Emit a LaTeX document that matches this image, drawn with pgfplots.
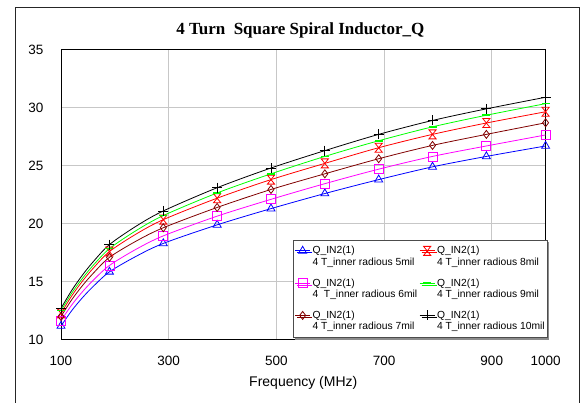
\documentclass[border=0pt]{standalone}
\usepackage{pgfplots}
\pgfplotsset{compat=1.18}
\usepackage{pgfplotstable}
\usepackage{fontspec}
\setmainfont{Liberation Sans}
\newfontfamily\titlefont{Liberation Serif}
\usetikzlibrary{shadows}
\definecolor{qblue}{RGB}{0,0,255}
\definecolor{qmag}{RGB}{255,0,255}
\definecolor{qbrown}{RGB}{128,0,0}
\definecolor{qred}{RGB}{255,0,0}
\definecolor{qgreen}{RGB}{0,255,0}
\pgfdeclareplotmark{hourglass}{%
 \pgfpathmoveto{\pgfqpoint{-0.8\pgfplotmarksize}{\pgfplotmarksize}}%
 \pgfpathlineto{\pgfqpoint{0.8\pgfplotmarksize}{\pgfplotmarksize}}%
 \pgfpathlineto{\pgfqpoint{-0.8\pgfplotmarksize}{-\pgfplotmarksize}}%
 \pgfpathlineto{\pgfqpoint{0.8\pgfplotmarksize}{-\pgfplotmarksize}}%
 \pgfpathclose\pgfusepathqstroke}
\pgfplotstableread{
f     blue  mag   brown red   green black
100   11.18 11.65 12.00 12.27 12.50 12.70
120   12.51 13.00 13.45 13.78 14.02 14.26
140   13.63 14.14 14.67 15.06 15.30 15.58
160   14.60 15.13 15.73 16.17 16.42 16.73
190   15.85 16.40 17.10 17.60 17.85 18.20
240   17.20 17.81 18.51 19.12 19.42 19.80
290   18.30 18.95 19.65 20.35 20.70 21.10
390   19.90 20.65 21.40 22.20 22.65 23.10
490   21.30 22.10 22.95 23.80 24.30 24.80
590   22.60 23.45 24.30 25.20 25.80 26.30
690   23.80 24.70 25.60 26.55 27.15 27.70
790   24.90 25.80 26.75 27.70 28.35 28.90
890   25.80 26.70 27.70 28.68 29.35 29.90
1000  26.70 27.65 28.70 29.65 30.35 30.90
}\qdata
\begin{document}
\begin{tikzpicture}
\path[use as bounding box] (0pt,0pt) rectangle (584pt,403pt);
\draw[line width=1pt, black!85] (15pt,0pt) -- (15pt,395pt) -- (579pt,395pt) -- (579pt,0pt);
\begin{axis}[
 at={(61pt,63.3pt)}, anchor=south west, scale only axis,
 width=484.6pt, height=290pt,
 xmin=100, xmax=1000, ymin=10, ymax=35,
 xtick={100,300,500,700,900,1000}, ytick={10,15,20,25,30,35},
 /pgf/number format/1000 sep={},
 /pgf/number format/assume math mode=true,
 grid=major, major grid style={draw=black!22, line width=0.9pt},
 major tick length=0pt,
 axis line style={line width=0.9pt},
 tick label style={font=\fontsize{13.5}{16}\selectfont},
 xticklabel style={yshift=-13pt},
 yticklabel style={xshift=-14pt},
 xlabel={Frequency (MHz)},
 xlabel style={at={(axis description cs:0.5,0)}, anchor=center, yshift=-43pt, font=\fontsize{14}{16}\selectfont},
 title={4 Turn\ \ Square Spiral Inductor\_Q},
 title style={at={(axis description cs:0.5,1)}, anchor=center, xshift=-3pt, yshift=13.7pt, font=\titlefont\bfseries\fontsize{17}{20}\selectfont},
 legend columns=2, legend cell align=left,
 legend style={at={(rel axis cs:1.004,0.006)}, anchor=south east,
   font=\fontsize{10.3}{11.3}\selectfont, nodes={align=left, inner xsep=1pt, inner ysep=1.5pt},
   draw=black!70, fill=white, line width=0.6pt,
   drop shadow={shadow xshift=2pt, shadow yshift=-2pt, fill=black!45, opacity=1},
   column sep=1pt, row sep=9pt, inner xsep=1.5pt, inner ysep=5pt},
 legend image code/.code={\draw[mark indices={2}] plot coordinates {(0pt,5.6pt) (7.5pt,5.6pt) (15pt,5.6pt)};},
 every axis plot/.append style={line width=0.8pt, smooth, mark indices={1,5,7,8,9,10,11,12,13,14}, mark options={solid, line width=0.8pt}},
]
\addplot[qblue, mark=triangle, mark size=4.6pt] table[x=f,y=blue]{\qdata};
\addlegendentry{Q\_IN2(1)\\4 T\_inner radious 5mil}
\addplot[qred, mark=hourglass, mark size=4.5pt] table[x=f,y=red]{\qdata};
\addlegendentry{Q\_IN2(1)\\4 T\_inner radious 8mil}
\addplot[qmag, mark=square, mark size=4.5pt] table[x=f,y=mag]{\qdata};
\addlegendentry{Q\_IN2(1)\\4\ \ T\_inner radious 6mil}
\addplot[qgreen, mark=-, mark size=4pt, mark options={line width=1.6pt}] table[x=f,y=green]{\qdata};
\addlegendentry{Q\_IN2(1)\\4 T\_inner radious 9mil}
\addplot[qbrown, mark=diamond, mark size=4pt] table[x=f,y=brown]{\qdata};
\addlegendentry{Q\_IN2(1)\\4 T\_inner radious 7mil}
\addplot[black, mark=+, mark size=5pt] table[x=f,y=black]{\qdata};
\addlegendentry{Q\_IN2(1)\\4 T\_inner radious 10mil}
\end{axis}
\end{tikzpicture}
\end{document}
